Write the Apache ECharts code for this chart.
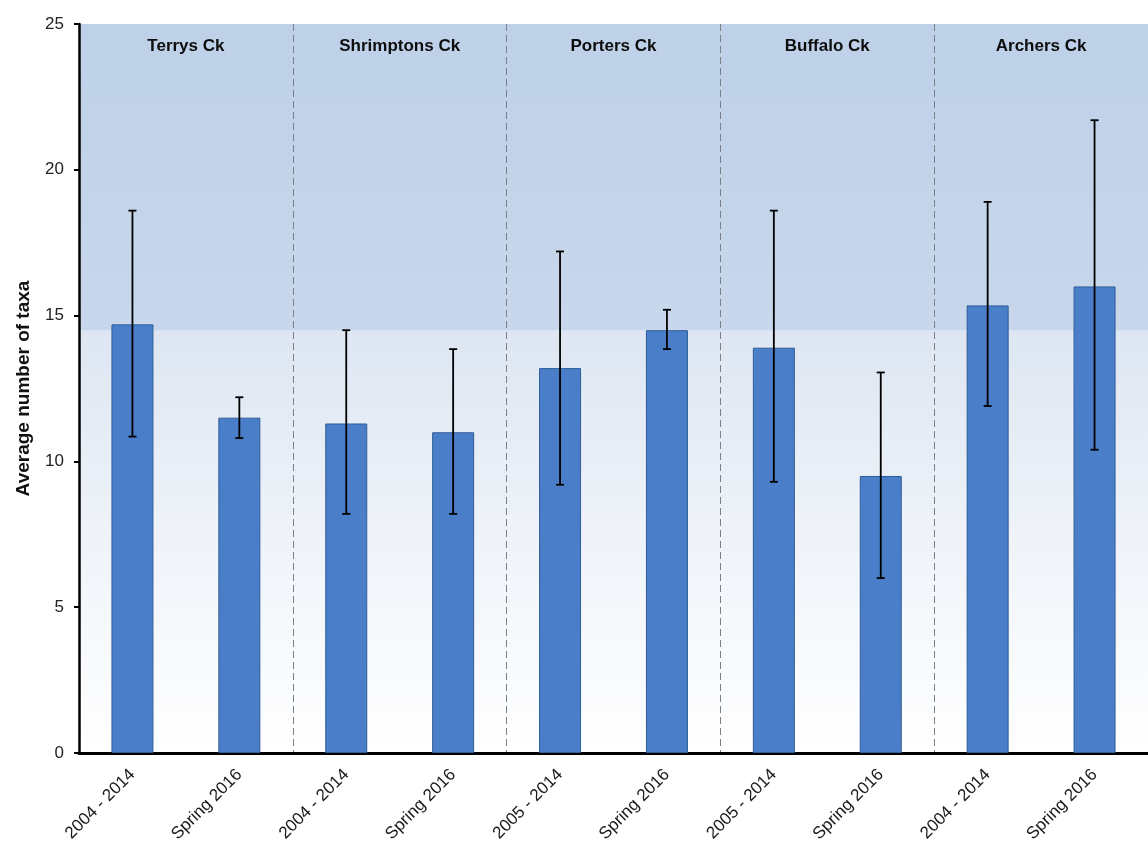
<!DOCTYPE html>
<html>
<head>
<meta charset="utf-8">
<script src="https://cdn.jsdelivr.net/npm/echarts@6/dist/echarts.min.js"></script>
<style>
  html, body { margin: 0; padding: 0; background: #ffffff; }
  #chart { width: 1148px; height: 850px; }
</style>
</head>
<body>
<div id="chart"></div>
<script>
// Sampling periods, two per creek
const periods = ['2004 - 2014', 'Spring 2016', '2004 - 2014', 'Spring 2016', '2005 - 2014',
                 'Spring 2016', '2005 - 2014', 'Spring 2016', '2004 - 2014', 'Spring 2016'];
// Creeks, each spanning two periods
const creeks = ['Terrys Ck', 'Shrimptons Ck', 'Porters Ck', 'Buffalo Ck', 'Archers Ck'];
// Average number of taxa per period
const meanTaxa = [14.7, 11.5, 11.3, 11.0, 13.2, 14.5, 13.9, 9.5, 15.35, 16.0];
// Error bar bounds
const errLow  = [10.85, 10.8, 8.2, 8.2, 9.2, 13.85, 9.3, 6.0, 11.9, 10.4];
const errHigh = [18.6, 12.2, 14.5, 13.85, 17.2, 15.2, 18.6, 13.05, 18.9, 21.7];
// Y axis ticks
const yTicks = [0, 5, 10, 15, 20, 25];

const chart = echarts.init(document.getElementById('chart'), null, { renderer: 'canvas' });

const errData = periods.map((p, i) => [i, errLow[i], errHigh[i]]);
const FONT = 'Liberation Sans, Arial, sans-serif';

const option = {
  backgroundColor: '#ffffff',
  animation: false,
  grid: {
    left: 79, right: 0, top: 24, bottom: 97,
    show: true,
    borderWidth: 0,
    backgroundColor: new echarts.graphic.LinearGradient(0, 0, 0, 1, [
      { offset: 0, color: '#bed1e8' },
      { offset: 0.419, color: '#c8d7eb' },
      { offset: 0.421, color: '#dde6f2' },
      { offset: 0.7, color: '#eff3f9' },
      { offset: 1, color: '#ffffff' }
    ])
  },
  xAxis: [
    {
      type: 'category',
      data: periods,
      position: 'bottom',
      axisLine: { lineStyle: { color: '#000', width: 3 } },
      axisTick: { show: false },
      axisLabel: {
        rotate: 45, interval: 0, margin: 19,
        fontFamily: FONT, fontSize: 17, color: '#1a1a1a'
      },
      splitLine: { show: false }
    },
    {
      type: 'category',
      data: creeks,
      position: 'top',
      axisLine: { show: false },
      axisTick: { show: false },
      axisLabel: {
        inside: true, interval: 0, margin: 14,
        fontFamily: FONT, fontSize: 17, fontWeight: 'bold', color: '#0d0d0d'
      },
      splitLine: { show: true, interval: 0, lineStyle: { color: '#7a7f88', width: 1, type: [7, 4] } }
    }
  ],
  yAxis: {
    type: 'value',
    min: yTicks[0], max: yTicks[yTicks.length - 1], interval: 5,
    name: 'Average number of taxa',
    nameLocation: 'middle',
    nameGap: 46,
    nameTextStyle: { fontFamily: FONT, fontSize: 19, fontWeight: 'bold', color: '#111' },
    axisLine: { show: true, lineStyle: { color: '#000', width: 2.5 } },
    axisTick: { show: true, length: 5, lineStyle: { color: '#000', width: 2 } },
    axisLabel: { margin: 15, fontFamily: FONT, fontSize: 17, color: '#222' },
    splitLine: { show: false }
  },
  series: [
    {
      type: 'bar',
      data: meanTaxa,
      xAxisIndex: 0,
      barWidth: 42,
      itemStyle: { color: '#4a7ec8', borderColor: '#2f5d98', borderWidth: 1 },
      z: 2
    },
    {
      type: 'custom',
      xAxisIndex: 0,
      data: errData,
      z: 5,
      renderItem: function (params, api) {
        const x = api.value(0);
        const lo = api.coord([x, api.value(1)]);
        const hi = api.coord([x, api.value(2)]);
        const cap = 4;
        const style = { stroke: '#000', lineWidth: 1.8 };
        return {
          type: 'group',
          children: [
            { type: 'line', shape: { x1: hi[0], y1: hi[1], x2: lo[0], y2: lo[1] }, style: style },
            { type: 'line', shape: { x1: hi[0] - cap, y1: hi[1], x2: hi[0] + cap, y2: hi[1] }, style: style },
            { type: 'line', shape: { x1: lo[0] - cap, y1: lo[1], x2: lo[0] + cap, y2: lo[1] }, style: style }
          ]
        };
      }
    }
  ]
};

chart.setOption(option);
</script>
</body>
</html>
